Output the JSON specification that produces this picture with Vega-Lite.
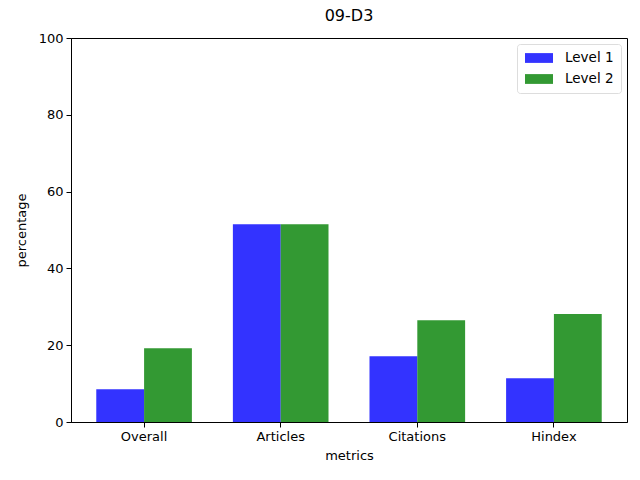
{
  "$schema": "https://vega.github.io/schema/vega-lite/v6.json",
  "width": 556,
  "height": 384,
  "autosize": "none",
  "padding": {"left": 71, "top": 38, "right": 13, "bottom": 58},
  "background": "white",
  "title": {"text": "09-D3", "fontSize": 16, "fontWeight": "normal", "font": "DejaVu Sans", "color": "black", "offset": 8},
  "config": {
    "view": {"stroke": "black", "strokeWidth": 1},
    "axis": {
      "labelFont": "DejaVu Sans", "titleFont": "DejaVu Sans",
      "labelFontSize": 13, "titleFontSize": 13,
      "labelColor": "black", "titleColor": "black",
      "titleFontWeight": "normal",
      "domainColor": "black", "tickColor": "black",
      "tickSize": 5, "grid": false, "labelPadding": 3
    },
    "legend": {"labelFont": "DejaVu Sans", "labelFontSize": 13.5, "labelColor": "black"}
  },
  "data": {
    "values": [
      {"metric": "Overall", "level": "Level 1", "value": 8.5},
      {"metric": "Overall", "level": "Level 2", "value": 19.2},
      {"metric": "Articles", "level": "Level 1", "value": 51.5},
      {"metric": "Articles", "level": "Level 2", "value": 51.5},
      {"metric": "Citations", "level": "Level 1", "value": 17.1},
      {"metric": "Citations", "level": "Level 2", "value": 26.5},
      {"metric": "Hindex", "level": "Level 1", "value": 11.4},
      {"metric": "Hindex", "level": "Level 2", "value": 28.1}
    ]
  },
  "mark": {"type": "bar", "opacity": 0.8},
  "encoding": {
    "x": {
      "field": "metric", "type": "nominal",
      "sort": ["Overall", "Articles", "Citations", "Hindex"],
      "scale": {"paddingInner": 0.3, "paddingOuter": 0.185},
      "axis": {"labelAngle": 0, "title": "metrics", "titlePadding": 6}
    },
    "xOffset": {"field": "level", "type": "nominal", "scale": {"paddingInner": 0, "paddingOuter": 0}},
    "y": {
      "field": "value", "type": "quantitative",
      "scale": {"domain": [0, 100], "nice": false},
      "axis": {"values": [0, 20, 40, 60, 80, 100], "title": "percentage", "titlePadding": 10}
    },
    "color": {
      "field": "level", "type": "nominal",
      "scale": {"domain": ["Level 1", "Level 2"], "range": ["#0000ff", "#008000"]},
      "legend": {
        "title": null, "orient": "top-right", "offset": 6,
        "symbolType": "M-2,-0.7H2V0.7H-2Z", "symbolSize": 196,
        "symbolOffset": 8,
        "symbolOpacity": 0.8, "symbolStrokeWidth": 0,
        "fillColor": "white", "strokeColor": "#dddddd", "cornerRadius": 3,
        "padding": 7, "rowPadding": 7, "labelOffset": 19
      }
    }
  }
}
